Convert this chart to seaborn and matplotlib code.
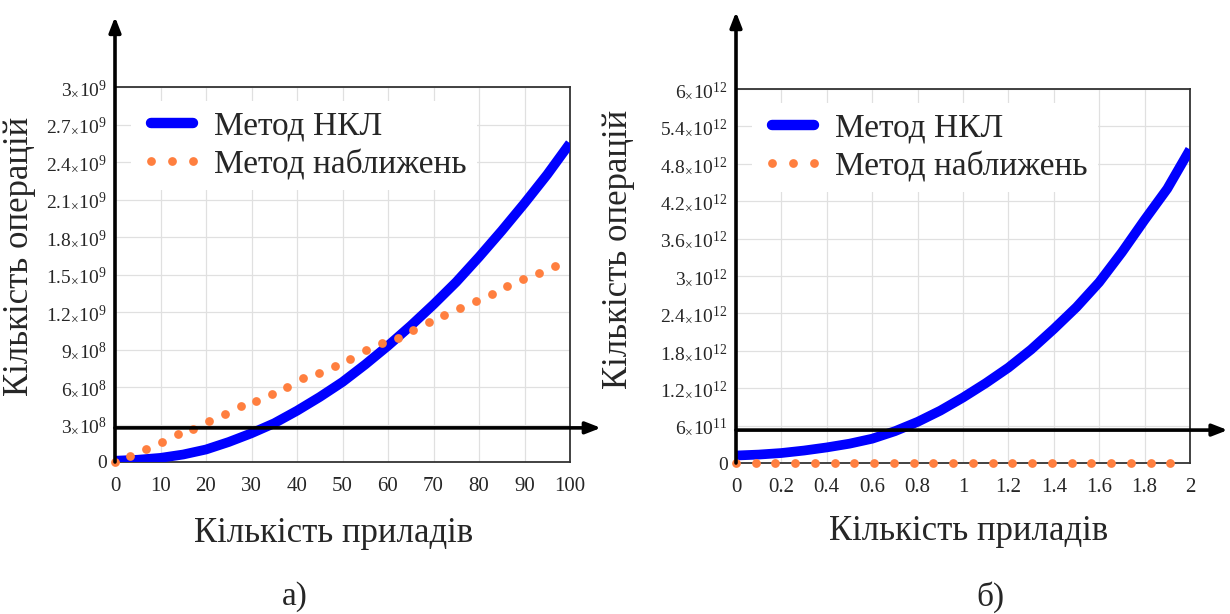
import numpy as np
import pandas as pd
import matplotlib
matplotlib.use("Agg")
import matplotlib.pyplot as plt
import seaborn as sns

# ---------------- data ----------------
a_x_nkl = [0, 5, 10, 15, 20, 25, 30, 35, 40, 45, 50, 55, 60, 65, 70, 75, 80, 85, 90, 95, 100]
a_y_nkl = [1.0e7, 1.8e7, 3.3e7, 6.0e7, 1.0e8, 1.6e8, 2.3e8, 3.1e8, 4.1e8, 5.2e8, 6.4e8, 7.8e8,
           9.3e8, 1.09e9, 1.26e9, 1.44e9, 1.64e9, 1.85e9, 2.07e9, 2.30e9, 2.55e9]
a_x_appr = [0, 3.4, 6.9, 10.3, 13.8, 17.2, 20.7, 24.1, 27.6, 31.0, 34.5, 37.9, 41.4, 44.8, 48.3,
            51.7, 55.2, 58.6, 62.1, 65.5, 69.0, 72.4, 75.9, 79.3, 82.8, 86.2, 89.7, 93.1, 96.6]
a_y_appr = [0, 4.8e7, 1.04e8, 1.63e8, 2.21e8, 2.61e8, 3.31e8, 3.87e8, 4.45e8, 4.91e8, 5.44e8,
            6.0e8, 6.69e8, 7.12e8, 7.71e8, 8.27e8, 8.96e8, 9.49e8, 9.95e8, 1.053e9, 1.12e9,
            1.176e9, 1.232e9, 1.29e9, 1.346e9, 1.41e9, 1.468e9, 1.513e9, 1.57e9]

b_x_nkl = [0, 0.1, 0.2, 0.3, 0.4, 0.5, 0.6, 0.7, 0.8, 0.9, 1.0, 1.1, 1.2, 1.3, 1.4, 1.5, 1.6,
           1.7, 1.8, 1.9, 2.0]
b_y_nkl = [1.2e11, 1.35e11, 1.6e11, 2.0e11, 2.5e11, 3.1e11, 3.9e11, 5.1e11, 6.6e11, 8.4e11,
           1.05e12, 1.28e12, 1.53e12, 1.82e12, 2.15e12, 2.5e12, 2.9e12, 3.38e12, 3.9e12,
           4.4e12, 5.03e12]
b_x_appr = [0, 0.087, 0.174, 0.261, 0.348, 0.435, 0.522, 0.609, 0.696, 0.783, 0.870, 0.957,
            1.043, 1.130, 1.217, 1.304, 1.391, 1.478, 1.565, 1.652, 1.739, 1.826, 1.913]
b_y_appr = [0] * 23

a_xticks = [0, 10, 20, 30, 40, 50, 60, 70, 80, 90, 100]
a_yticks = [0, 3e8, 6e8, 9e8, 1.2e9, 1.5e9, 1.8e9, 2.1e9, 2.4e9, 2.7e9, 3e9]
a_ylabels = ["0", "3", "6", "9", "1.2", "1.5", "1.8", "2.1", "2.4", "2.7", "3"]
a_yexp = [None, 8, 8, 8, 9, 9, 9, 9, 9, 9, 9]
b_xticks = [0, 0.2, 0.4, 0.6, 0.8, 1.0, 1.2, 1.4, 1.6, 1.8, 2.0]
b_xlabels = ["0", "0.2", "0.4", "0.6", "0.8", "1", "1.2", "1.4", "1.6", "1.8", "2"]
b_yticks = [0, 6e11, 1.2e12, 1.8e12, 2.4e12, 3e12, 3.6e12, 4.2e12, 4.8e12, 5.4e12, 6e12]
b_ylabels = ["0", "6", "1.2", "1.8", "2.4", "3", "3.6", "4.2", "4.8", "5.4", "6"]
b_yexp = [None, 11, 12, 12, 12, 12, 12, 12, 12, 12, 12]

label_nkl = "Метод НКЛ"
label_appr = "Метод наближень"
xlab = "Кількість приладів"
ylab = "Кількість операцій"

# ---------------- style ----------------
sns.set_style("white")
plt.rcParams['font.family'] = ['Liberation Serif', 'DejaVu Serif']
plt.rcParams['mathtext.fontset'] = 'custom'
plt.rcParams['mathtext.rm'] = 'Liberation Serif'
plt.rcParams['mathtext.it'] = 'Liberation Serif:italic'
plt.rcParams['mathtext.default'] = 'regular'

BLUE = '#0000ff'
ORANGE = '#ff7f3f'

fig = plt.figure(figsize=(12.3, 6.14), dpi=100)
axA = fig.add_axes([115/1230, 1-462/614, 455/1230, 375/614])
axB = fig.add_axes([736/1230, 1-463/614, 454/1230, 374/614])


def fmt(m, e):
    if e is None:
        return m
    return r"$%s_{\times}10^{%d}$" % (m, e)


def draw(ax, xn, yn, xa, ya, xt, xtl, yt, ytl, yexp, xmax, ymax, arrow_tip_x, arrow_y, vtip,
         ylab_pos, xlab_pos):
    dn = pd.DataFrame({"x": xn, "y": yn})
    da = pd.DataFrame({"x": xa, "y": ya})
    sns.lineplot(data=dn, x="x", y="y", ax=ax, color=BLUE, lw=7, label=label_nkl,
                 solid_capstyle='butt', solid_joinstyle='round', zorder=3)
    sns.lineplot(data=da, x="x", y="y", ax=ax, color=ORANGE, lw=0, marker='o', markersize=6.3,
                 markeredgewidth=0, label=label_appr, clip_on=False, zorder=4)
    ax.set_xlim(0, xmax)
    ax.set_ylim(0, ymax)
    ax.set_xticks(xt)
    ax.set_xticklabels(xtl, fontsize=15)
    ax.set_yticks(yt)
    ax.set_yticklabels([fmt(m, e) for m, e in zip(ytl, yexp)], fontsize=14)
    ax.tick_params(axis='x', length=0, pad=11)
    ax.tick_params(axis='y', length=0, pad=6)
    ax.grid(True, color='#e0e0e0', lw=0.9)
    for s in ax.spines.values():
        s.set_color('#333333')
        s.set_linewidth(1.3)
    ax.set_xlabel(xlab, fontsize=25)
    ax.set_ylabel(ylab, fontsize=25)
    ax.yaxis.set_label_coords(*ylab_pos)
    ax.xaxis.set_label_coords(*xlab_pos)
    # axis arrows
    ax.annotate("", xy=(arrow_tip_x, arrow_y), xytext=(0, arrow_y),
                xycoords='axes fraction', textcoords='axes fraction',
                arrowprops=dict(arrowstyle='-|>,head_length=0.9,head_width=0.35', lw=2.6,
                                color='black', shrinkA=0, shrinkB=0), zorder=5)
    ax.annotate("", xy=(0, vtip), xytext=(0, 0),
                xycoords='axes fraction', textcoords='axes fraction',
                arrowprops=dict(arrowstyle='-|>,head_length=0.9,head_width=0.35', lw=2.6,
                                color='black', shrinkA=0, shrinkB=0), zorder=5)
    leg = ax.legend(loc='upper left', bbox_to_anchor=(0.035, 0.962), fontsize=24,
                    frameon=True, facecolor='white', edgecolor='none', framealpha=1,
                    handlelength=1.85, handletextpad=0.35, labelspacing=0.22,
                    borderpad=0.3, borderaxespad=0.0, numpoints=3, fancybox=False)
    leg.set_zorder(2.5)
    for h in leg.legend_handles:
        if h.get_label() == label_nkl:
            h.set_linewidth(7.5)
            h.set_solid_capstyle('round')


draw(axA, a_x_nkl, a_y_nkl, a_x_appr, a_y_appr, a_xticks, [str(v) for v in a_xticks],
     a_yticks, a_ylabels, a_yexp, 100, 3e9, 1.068, 0.091, 1.187,
     (-0.174, 0.548), (0.48, -0.147))
draw(axB, b_x_nkl, b_y_nkl, b_x_appr, b_y_appr, b_xticks, b_xlabels,
     b_yticks, b_ylabels, b_yexp, 2, 6e12, 1.083, 0.088, 1.206,
     (-0.222, 0.57), (0.512, -0.139))

fig.text(295/1230, 1-597/614, "а)", fontsize=24, ha='center', va='center')
fig.text(990/1230, 1-597/614, "б)", fontsize=24, ha='center', va='center')

fig.savefig("out.png", dpi=100)
